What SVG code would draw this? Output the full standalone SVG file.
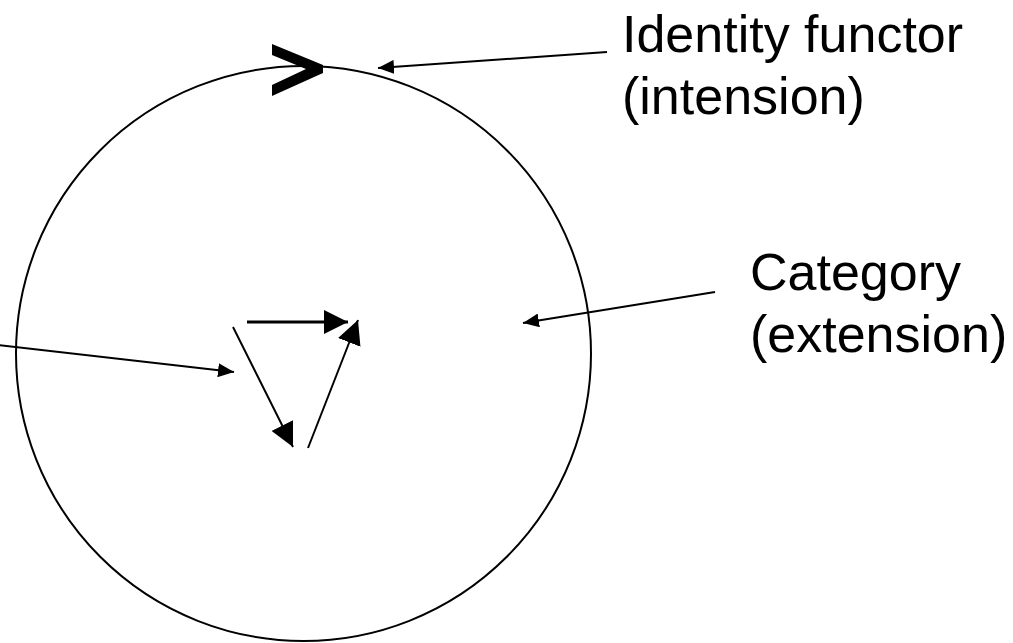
<svg xmlns="http://www.w3.org/2000/svg" width="1013" height="643" viewBox="0 0 1013 643">
  <style>
    .lbl { font-family: "Liberation Sans", Arial, sans-serif; font-size: 52px; fill: #000; }
    .conn { stroke: #000; stroke-width: 2; fill: none; }
    .thin { stroke: #000; stroke-width: 2; fill: none; }
  </style>
  <defs>
    <marker id="ah" markerUnits="userSpaceOnUse" markerWidth="17" markerHeight="14" refX="16" refY="7" orient="auto">
      <path d="M0,0 L16,7 L0,14 Z" fill="#000"/>
    </marker>
    <marker id="ahBig" markerUnits="userSpaceOnUse" markerWidth="26" markerHeight="24" refX="24" refY="12" orient="auto">
      <path d="M0,0 L24,12 L0,24 Z" fill="#000"/>
    </marker>
  </defs>
  <rect width="1013" height="643" fill="#fff"/>

  <g id="category">
    <circle cx="303.5" cy="353.5" r="287.5" class="thin"/>
  </g>

  <g id="identity-chevron">
    <polygon points="272,44 323,65 323,73 272,96 272,85 306,69 272,55" fill="#000"/>
  </g>

  <g id="inner-triangle">
    <line x1="247" y1="322" x2="348" y2="322" stroke="#000" stroke-width="3" marker-end="url(#ahBig)"/>
    <line x1="233" y1="327" x2="293" y2="447" class="thin" marker-end="url(#ahBig)"/>
    <line x1="308" y1="448" x2="358" y2="320" class="thin" marker-end="url(#ahBig)"/>
  </g>

  <g id="label-identity">
    <text class="lbl" x="622" y="52">Identity functor</text>
    <text class="lbl" x="622" y="114">(intension)</text>
  </g>

  <g id="label-category">
    <text class="lbl" x="750" y="290">Category</text>
    <text class="lbl" x="750" y="352">(extension)</text>
  </g>

  <g id="connectors">
    <line x1="607" y1="52" x2="378" y2="68" class="conn" marker-end="url(#ah)"/>
    <line x1="715" y1="292" x2="523" y2="323" class="conn" marker-end="url(#ah)"/>
    <line x1="-2" y1="345" x2="234" y2="372" class="conn" marker-end="url(#ah)"/>
  </g>
</svg>
